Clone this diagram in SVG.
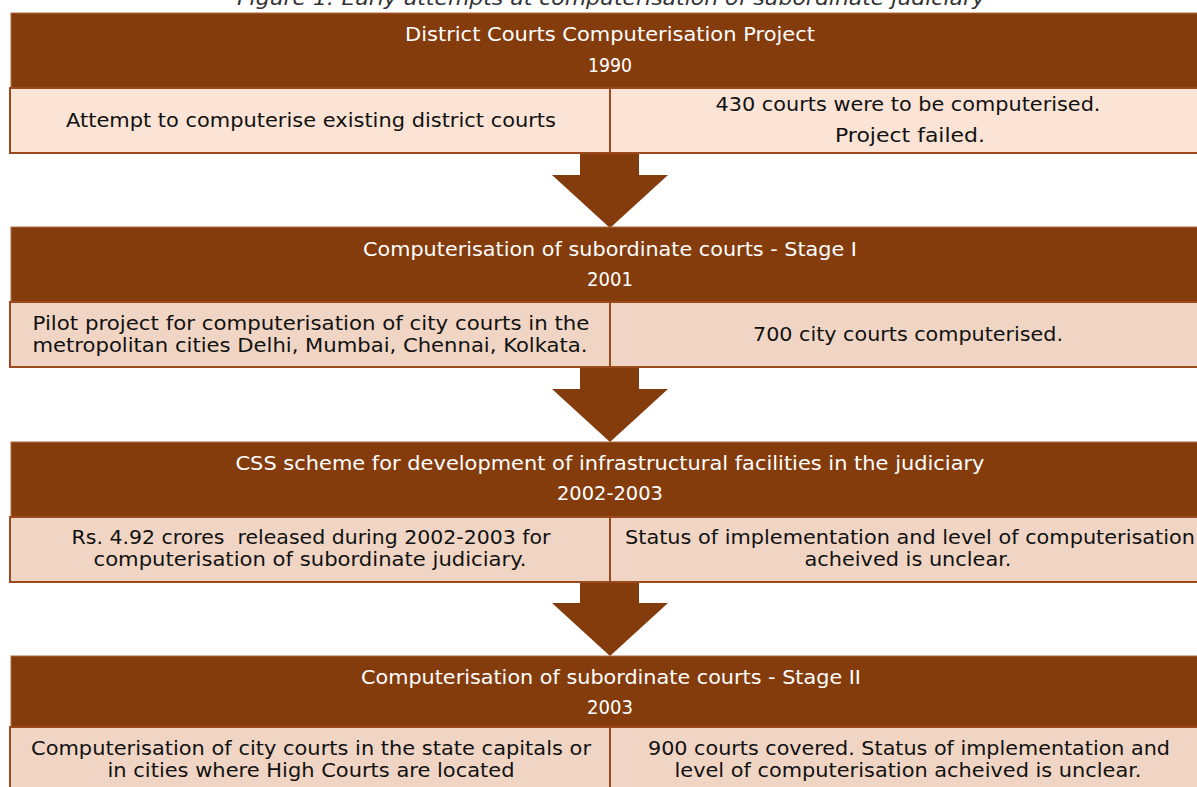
<svg xmlns="http://www.w3.org/2000/svg" width="1197" height="787" viewBox="0 0 1197 787">
<style>
.hdr{fill:#843C0C;stroke:#B06A40;stroke-width:1}
.r1{fill:#FBE4D5;stroke:#9A4A1C;stroke-width:2}
.r2{fill:#F0D5C4;stroke:#9A4A1C;stroke-width:2}
.div{stroke:#9A4A1C;stroke-width:2}
.ht{font-family:"DejaVu Sans",sans-serif;font-size:19px;fill:#FFFFFF;text-anchor:middle}
.bt{font-family:"DejaVu Sans",sans-serif;font-size:19px;fill:#111111;text-anchor:middle}
.arr{fill:#843C0C}
.ttl{font-family:"DejaVu Sans",sans-serif;font-size:19px;font-style:italic;fill:#333333;text-anchor:middle}
</style>
<text class="ttl" x="611" y="5" textLength="748" lengthAdjust="spacingAndGlyphs">Figure 1: Early attempts at computerisation of subordinate judiciary</text>
<g id="connectors">
<polygon class="arr" points="580,153 639,153 639,175 668,175 610,228 552,175 580,175"/>
<polygon class="arr" points="580,367 639,367 639,389 668,389 610,442 552,389 580,389"/>
<polygon class="arr" points="580,582 639,582 639,603 668,603 610,656 552,603 580,603"/>
</g>
<g id="node1">
<rect class="hdr" x="11" y="13" width="1200" height="75"/>
<text class="ht" x="610" y="41" textLength="410" lengthAdjust="spacingAndGlyphs">District Courts Computerisation Project</text>
<text class="ht" x="610" y="72" textLength="44" lengthAdjust="spacingAndGlyphs">1990</text>
<rect class="r1" x="10" y="88" width="1200" height="65"/>
<line class="div" x1="610" y1="88" x2="610" y2="153"/>
<text class="bt" x="311" y="127" textLength="490" lengthAdjust="spacingAndGlyphs">Attempt to computerise existing district courts</text>
<text class="bt" x="908" y="111" textLength="385" lengthAdjust="spacingAndGlyphs">430 courts were to be computerised.</text>
<text class="bt" x="910" y="142" textLength="150" lengthAdjust="spacingAndGlyphs">Project failed.</text>
</g>
<g id="node2">
<rect class="hdr" x="11" y="227" width="1200" height="75"/>
<text class="ht" x="610" y="256" textLength="494" lengthAdjust="spacingAndGlyphs">Computerisation of subordinate courts - Stage I</text>
<text class="ht" x="610" y="286" textLength="46" lengthAdjust="spacingAndGlyphs">2001</text>
<rect class="r2" x="10" y="302" width="1200" height="65"/>
<line class="div" x1="610" y1="302" x2="610" y2="367"/>
<text class="bt" x="311" y="330" textLength="557" lengthAdjust="spacingAndGlyphs">Pilot project for computerisation of city courts in the</text>
<text class="bt" x="310" y="352" textLength="555" lengthAdjust="spacingAndGlyphs">metropolitan cities Delhi, Mumbai, Chennai, Kolkata.</text>
<text class="bt" x="908" y="341" textLength="310" lengthAdjust="spacingAndGlyphs">700 city courts computerised.</text>
</g>
<g id="node3">
<rect class="hdr" x="11" y="442" width="1200" height="75"/>
<text class="ht" x="610" y="470" textLength="749" lengthAdjust="spacingAndGlyphs">CSS scheme for development of infrastructural facilities in the judiciary</text>
<text class="ht" x="610" y="500" textLength="106" lengthAdjust="spacingAndGlyphs">2002-2003</text>
<rect class="r2" x="10" y="517" width="1200" height="65"/>
<line class="div" x1="610" y1="517" x2="610" y2="582"/>
<text class="bt" x="311" y="544" textLength="479" lengthAdjust="spacingAndGlyphs" xml:space="preserve">Rs. 4.92 crores  released during 2002-2003 for</text>
<text class="bt" x="310" y="566" textLength="433" lengthAdjust="spacingAndGlyphs">computerisation of subordinate judiciary.</text>
<text class="bt" x="910" y="544" textLength="570" lengthAdjust="spacingAndGlyphs">Status of implementation and level of computerisation</text>
<text class="bt" x="908" y="566" textLength="207" lengthAdjust="spacingAndGlyphs">acheived is unclear.</text>
</g>
<g id="node4">
<rect class="hdr" x="11" y="656" width="1200" height="71"/>
<text class="ht" x="611" y="684" textLength="500" lengthAdjust="spacingAndGlyphs">Computerisation of subordinate courts - Stage II</text>
<text class="ht" x="610" y="714" textLength="46" lengthAdjust="spacingAndGlyphs">2003</text>
<rect class="r2" x="10" y="727" width="1200" height="70"/>
<line class="div" x1="610" y1="727" x2="610" y2="797"/>
<text class="bt" x="311" y="755" textLength="560" lengthAdjust="spacingAndGlyphs">Computerisation of city courts in the state capitals or</text>
<text class="bt" x="311" y="777" textLength="407" lengthAdjust="spacingAndGlyphs">in cities where High Courts are located</text>
<text class="bt" x="909" y="755" textLength="522" lengthAdjust="spacingAndGlyphs">900 courts covered. Status of implementation and</text>
<text class="bt" x="908" y="777" textLength="467" lengthAdjust="spacingAndGlyphs">level of computerisation acheived is unclear.</text>
</g>
</svg>
